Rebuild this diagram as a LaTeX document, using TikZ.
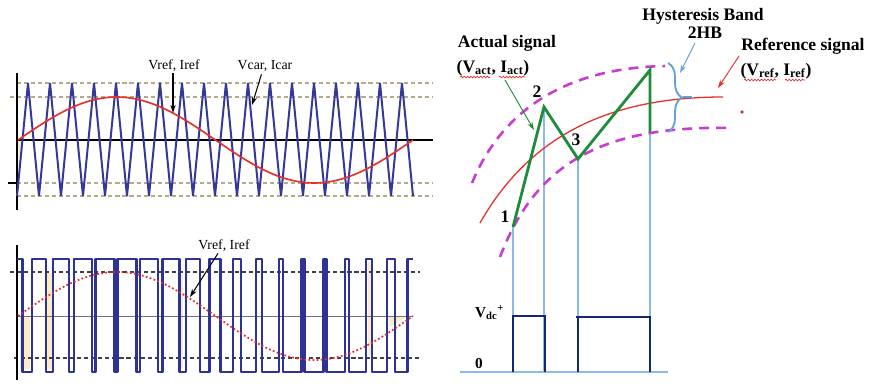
\documentclass[tikz,border=0pt]{standalone}
\usepackage{fontspec}
\setmainfont{Liberation Serif}
\usetikzlibrary{arrows.meta,decorations.pathreplacing,decorations.pathmorphing}
\definecolor{triblue}{RGB}{52,56,150}
\definecolor{pwmblue}{RGB}{44,50,150}
\definecolor{sinered}{RGB}{232,48,42}
\definecolor{tanline}{RGB}{185,170,135}
\definecolor{actgreen}{RGB}{30,140,58}
\definecolor{bandmag}{RGB}{200,60,210}
\definecolor{lightblue}{RGB}{140,185,230}
\definecolor{braceblue}{RGB}{100,160,220}
\definecolor{pulsenavy}{RGB}{20,40,110}
\definecolor{paleyellow}{RGB}{253,236,195}
\begin{document}
\begin{tikzpicture}[x=0.03cm,y=-0.03cm,
  tandash/.style={tanline,line width=1.2pt,dash pattern=on 3.5pt off 2.5pt},
  darkdash/.style={black!75,line width=0.9pt,dash pattern=on 3.5pt off 2.5pt},
  axisline/.style={black,line width=1.4pt},
  triwave/.style={triblue,line width=1.7pt,line join=miter},
  pwm/.style={pwmblue,line width=2.2pt,line join=round},
  lbl/.style={font=\fontsize{11.8}{13}\selectfont,inner sep=0pt,anchor=base},
  blbl/.style={font=\fontsize{15}{17}\selectfont\bfseries,inner sep=0pt,anchor=base},
  ptr/.style={-{Stealth[length=7pt,width=4.5pt]},line width=0.9pt},
  band/.style={bandmag,line width=2.2pt,dash pattern=on 8.5pt off 6pt},
  guide/.style={lightblue,line width=1.1pt},
  pulse/.style={pulsenavy,line width=1.8pt},
  wavy/.style={sinered,line width=0.6pt,decorate,decoration={snake,amplitude=0.7pt,segment length=2.8pt}}
]
\useasboundingbox (0,0) rectangle (870,384);
\fill[white] (0,0) rectangle (870,384);

% ---------------- top-left panel ----------------
\draw[tandash] (17,83) -- (433,83);
\draw[tandash] (10,97) -- (433,97);
\draw[tandash] (17,183) -- (433,183);
\draw[tandash] (17,196) -- (433,196);
\draw[black,line width=1pt] (8,183) -- (17,183);
\fill[paleyellow] (18,141) -- (22,141) -- (19,165) -- cycle;
\draw[axisline] (17,73) -- (17,210);
\draw[axisline] (17,140) -- (433,140);
\draw[triwave] (17,196) \foreach \k in {0,...,17} { -- ({28+22*\k},83) -- ({39+22*\k},196) };
\draw[sinered,line width=1.4pt] plot[domain=18:413,samples=120] (\x,{140-43*sin(0.911392*(\x-18))});
\node[lbl] (tref) at (174,69) {Vref, Iref};
\node[lbl] (tcar) at (265,69) {Vcar, Icar};
\coordinate (trefend) at (173,113);
\coordinate (tcarend) at (252,105);
\draw[ptr,line width=1.6pt] (173,73) -- (trefend);
\draw[ptr] (tcar.south west) ++(24,3) -- (tcarend);

% ---------------- bottom-left panel ----------------
\fill[paleyellow] (20,316) rectangle (30,369);
\fill[paleyellow] (47,273) rectangle (52,369);
\fill[paleyellow] (178,274) rectangle (183,368);
\fill[paleyellow] (368,262) rectangle (372,355);
\fill[paleyellow] (388,316) -- (407,316) -- (390,327) -- cycle;
\draw[black!55,line width=0.8pt] (17,316) -- (413,316);
\draw[darkdash] (10,272) -- (420,272);
\draw[darkdash] (14,358) -- (420,358);
\draw[axisline] (17,245) -- (17,380);
\draw[pwm] (17,259) -- (22.5,259) -- (22.5,372)
  \foreach \k [evaluate=\k as \hw using {5.5*(1+0.76*sin(0.911392*(22*\k-1)))},
               evaluate=\k as \bk using {17+22*\k}] in {1,...,17} {
    -- ({\bk-\hw},372) -- ({\bk-\hw},259) -- ({\bk+\hw},259) -- ({\bk+\hw},372)
  }
  -- (407.5,372) -- (407.5,259) -- (413,259);
\draw[sinered,line width=1.5pt,dotted] plot[domain=18:413,samples=120] (\x,{316-44*sin(0.911392*(\x-18))});
\node[lbl] (bref) at (224,249) {Vref, Iref};
\coordinate (brefend) at (190,297);
\draw[ptr] (bref.south) ++(-6,2) -- (brefend);

% ---------------- right panel ----------------
\draw[guide] (513,227) -- (513,372);
\draw[guide] (544,107) -- (544,372);
\draw[guide] (578,159) -- (578,372);
\draw[guide] (650,132) -- (650,372);
\draw[lightblue,line width=1.5pt] (460,372) -- (668,372);
\draw[pulse] (513,372) -- (513,316) -- (545,316) -- (545,372);
\draw[pulse] (576,317) -- (650,317) -- (650,372);
\draw[pulse] (578,317) -- (578,372);

\draw[band] (472,183) .. controls (500,115) and (560,68) .. (665,66);
\draw[band] (500,257) .. controls (535,165) and (600,125) .. (732,128);
\draw[sinered,line width=1.1pt] (480,223) .. controls (530,135) and (610,97) .. (723,97);
\fill[sinered] (742,112) circle (1.8);

\draw[actgreen,line width=2.4pt,line join=miter] (513,227) -- (544,107) -- (578,159) -- (650,70) -- (650,132);

\draw[braceblue,line width=1.6pt,decorate,decoration={brace,amplitude=12pt}] (668,63) -- (668,132);
\draw[braceblue,line width=1.6pt] (683,97) -- (692,97);

\node[blbl] (p1) at (505,222) {1};
\node[blbl] (p2) at (537,97) {2};
\node[blbl] (p3) at (576,145) {3};

\node[blbl] (hb) at (703,20) {Hysteresis Band};
\node[blbl] (hb2) at (705,38) {2HB};
\node[blbl] (act) at (507,47) {Actual signal};
\node[blbl] (act2) at (493,72) {(V\textsubscript{act}, I\textsubscript{act})};
\node[blbl] (ref) at (803,50) {Reference signal};
\node[blbl] (ref2) at (776,75) {(V\textsubscript{ref}, I\textsubscript{ref})};
\draw[wavy] (460,77) -- (490,77);
\draw[wavy] (499,77) -- (525,77);
\draw[wavy] (744,80) -- (776,80);
\draw[wavy] (785,80) -- (805,80);

\coordinate (actend) at (534,130);
\coordinate (hbend) at (680,73);
\coordinate (refend) at (718,88);
\draw[ptr,actgreen,line width=0.8pt] (505,80) -- (actend);
\draw[ptr,braceblue,line width=0.8pt] (695,43) -- (hbend);
\draw[ptr,sinered,line width=0.8pt] (739,56) -- (refend);

\node[font=\fontsize{13}{15}\selectfont\bfseries,inner sep=0pt,anchor=base west] (vdc) at (475,317) {V\textsubscript{dc}\textsuperscript{+}};
\node[font=\fontsize{13}{15}\selectfont\bfseries,inner sep=0pt,anchor=base west] (zero) at (475,368) {0};
\end{tikzpicture}
\end{document}
